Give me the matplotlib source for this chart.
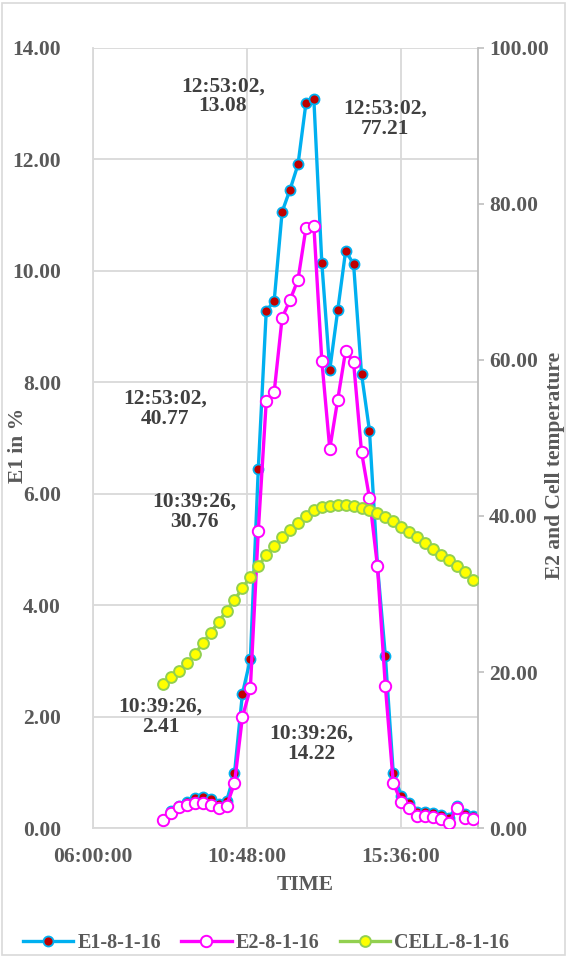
import matplotlib
matplotlib.use("Agg")
import matplotlib.pyplot as plt
from matplotlib.patches import Rectangle
from matplotlib.ticker import FixedLocator, FuncFormatter

# Logger timestamps (one reading roughly every 15 minutes)
times = [
    "08:10:56", "08:25:47", "08:40:38", "08:55:29", "09:10:20", "09:25:11",
    "09:40:02", "09:54:53", "10:09:44", "10:24:35", "10:39:26", "10:54:17",
    "11:09:08", "11:23:59", "11:38:50", "11:53:41", "12:08:32", "12:23:23",
    "12:38:14", "12:53:02", "13:07:56", "13:22:47", "13:37:38", "13:52:29",
    "14:07:20", "14:22:11", "14:37:02", "14:51:53", "15:06:44", "15:21:35",
    "15:36:26", "15:51:17", "16:06:08", "16:20:59", "16:35:50", "16:50:41",
    "17:05:32", "17:20:23", "17:35:14", "17:50:05",
]

# E1 in % (left axis)
e1 = [0.15, 0.30, 0.40, 0.47, 0.53, 0.55, 0.52, 0.43, 0.48, 0.98,
      2.41, 3.03, 6.45, 9.28, 9.46, 11.06, 11.46, 11.91, 13.01, 13.08,
      10.14, 8.22, 9.29, 10.36, 10.12, 8.15, 7.13, 4.72, 3.09, 0.98,
      0.58, 0.44, 0.29, 0.28, 0.27, 0.23, 0.18, 0.39, 0.25, 0.22]

# E2 (right axis)
e2 = [1.03, 1.88, 2.65, 2.95, 3.16, 3.24, 2.95, 2.52, 2.82, 5.73,
      14.22, 17.91, 38.10, 54.70, 55.90, 65.40, 67.70, 70.30, 76.90, 77.21,
      59.90, 48.60, 54.90, 61.20, 59.70, 48.20, 42.30, 33.60, 18.20, 5.73,
      3.37, 2.52, 1.54, 1.54, 1.45, 1.11, 0.68, 2.52, 1.24, 1.11]

# Cell temperature (right axis)
cell = [18.46, 19.32, 20.17, 21.12, 22.27, 23.68, 25.04, 26.41, 27.86, 29.23,
        30.76, 32.22, 33.59, 34.96, 36.15, 37.26, 38.21, 39.14, 40.00, 40.77,
        41.12, 41.28, 41.37, 41.37, 41.28, 41.03, 40.77, 40.42, 39.91, 39.32,
        38.63, 37.95, 37.26, 36.49, 35.79, 35.03, 34.36, 33.59, 32.82, 31.79]

x_tick_labels = ["06:00:00", "10:48:00", "15:36:00"]
x_range = ["06:00:00", "18:00:00"]
left_ticks = [0, 2, 4, 6, 8, 10, 12, 14]
right_ticks = [0, 20, 40, 60, 80, 100]
series_names = ["E1-8-1-16", "E2-8-1-16", "CELL-8-1-16"]


def to_day(stamp):
    h, m, s = (int(p) for p in stamp.split(":"))
    return (h * 3600 + m * 60 + s) / 86400.0


x = [to_day(t) for t in times]

FONT = "Liberation Serif"
FS = 15.5
LEG_FS = 14.5
TICK_COLOR = "#595959"
LABEL_COLOR = "#404040"
GRID = "#D9D9D9"

plt.rcParams["font.family"] = [FONT, "DejaVu Serif"]
plt.rcParams["font.weight"] = "bold"
plt.rcParams["axes.labelweight"] = "bold"

W, H = 567, 958
fig = plt.figure(figsize=(W / 100, H / 100), dpi=100)
L, R, T, B = 93, 478, 48, 828
ax = fig.add_axes([L / W, 1 - B / H, (R - L) / W, (B - T) / H])
ax2 = ax.twinx()

# outer chart border
fig.add_artist(Rectangle((0.004, 0.003), 0.992, 0.994, transform=fig.transFigure,
                         fill=False, edgecolor=GRID, linewidth=1.2))

# --- left axis (E1) ---
ax.set_xlim(to_day(x_range[0]), to_day(x_range[1]))
ax.set_ylim(0, 14)
ax.yaxis.set_major_locator(FixedLocator(left_ticks))
ax.yaxis.set_major_formatter(FuncFormatter(lambda v, p: f"{v:.2f}"))
ax.set_xticks([to_day(t) for t in x_tick_labels], x_tick_labels)
ax.grid(True, color=GRID, linewidth=1.3)
ax.set_axisbelow(True)
ax.tick_params(axis="y", length=0, pad=23, labelsize=FS, labelcolor=TICK_COLOR)
ax.tick_params(axis="x", length=0, pad=14, labelsize=FS, labelcolor=TICK_COLOR)
for side in ("top", "right"):
    ax.spines[side].set_visible(False)
for side in ("left", "bottom"):
    ax.spines[side].set_color(GRID)
    ax.spines[side].set_linewidth(1.3)

ln1, = ax.plot(x, e1, color="#00B0F0", linewidth=2.4, marker="o", markersize=7.2,
               markerfacecolor="#C00000", markeredgecolor="#00B0F0",
               markeredgewidth=1.3, label=series_names[0], zorder=3)

# --- right axis (E2 and cell temperature) ---
ax2.set_ylim(0, 100)
ax2.yaxis.set_major_locator(FixedLocator(right_ticks))
ax2.yaxis.set_major_formatter(FuncFormatter(lambda v, p: f"{v:.2f}"))
ax2.tick_params(axis="y", length=4.5, width=1.2, color="#BFBFBF", direction="out",
                pad=3.5, labelsize=FS, labelcolor=TICK_COLOR)
for side in ("top", "left", "bottom"):
    ax2.spines[side].set_visible(False)
ax2.spines["right"].set_color("#BFBFBF")
ax2.spines["right"].set_linewidth(1.3)

ln2, = ax2.plot(x, e2, color="#FF00FF", linewidth=2.4, marker="o", markersize=8.2,
                markerfacecolor="white", markeredgecolor="#FF00FF",
                markeredgewidth=1.4, label=series_names[1], zorder=3)
ln3, = ax2.plot(x, cell, color="#92D050", linewidth=2.4, marker="o", markersize=7.8,
                markerfacecolor="#FFFF00", markeredgecolor="#92D050",
                markeredgewidth=1.4, label=series_names[2], zorder=4)

# --- axis titles ---
ax.set_ylabel("E1 in %", fontsize=FS, color=TICK_COLOR, va="center",
              fontweight="bold")
ax.yaxis.set_label_coords((18 - L) / (R - L), (B - 445) / (B - T))
ax2.set_ylabel("E2 and Cell temperature", fontsize=FS, color=TICK_COLOR,
               va="center", rotation=90, fontweight="bold")
ax2.yaxis.set_label_coords((555 - L) / (R - L), (B - 465) / (B - T))
ax.set_xlabel("TIME", fontsize=FS, color=TICK_COLOR, va="center",
              fontweight="bold")
ax.xaxis.set_label_coords((305 - L) / (R - L), (B - 885) / (B - T))

# --- data labels (offsets in pixels: right, down) ---
def data_label(axis, values, i, dx, dy):
    axis.annotate(f"{times[i]},\n{values[i]:.2f}", xy=(x[i], values[i]),
                  xytext=(dx * 0.72, -dy * 0.72), textcoords="offset points",
                  ha="center", va="center", multialignment="center",
                  fontsize=FS, fontweight="bold", color=LABEL_COLOR,
                  linespacing=1.0, zorder=6)

peak = 19
start = 10
data_label(ax, e1, peak, -91, -3)
data_label(ax2, e2, peak, 71, -107)
data_label(ax2, cell, peak, -149, -101)
data_label(ax2, cell, start, -48, -76)
data_label(ax, e1, start, -82, 23)
data_label(ax2, e2, start, 69, 27)

# --- legend ---
leg = fig.legend([ln1, ln2, ln3], series_names, loc="center",
                 bbox_to_anchor=(266 / W, 1 - 943 / H), ncol=3, frameon=False,
                 prop={"family": FONT, "weight": "bold", "size": LEG_FS},
                 handlelength=2.5, handletextpad=0.2,
                 columnspacing=1.0, borderaxespad=0)
for txt in leg.get_texts():
    txt.set_color(TICK_COLOR)

fig.savefig("out.png", dpi=100)
